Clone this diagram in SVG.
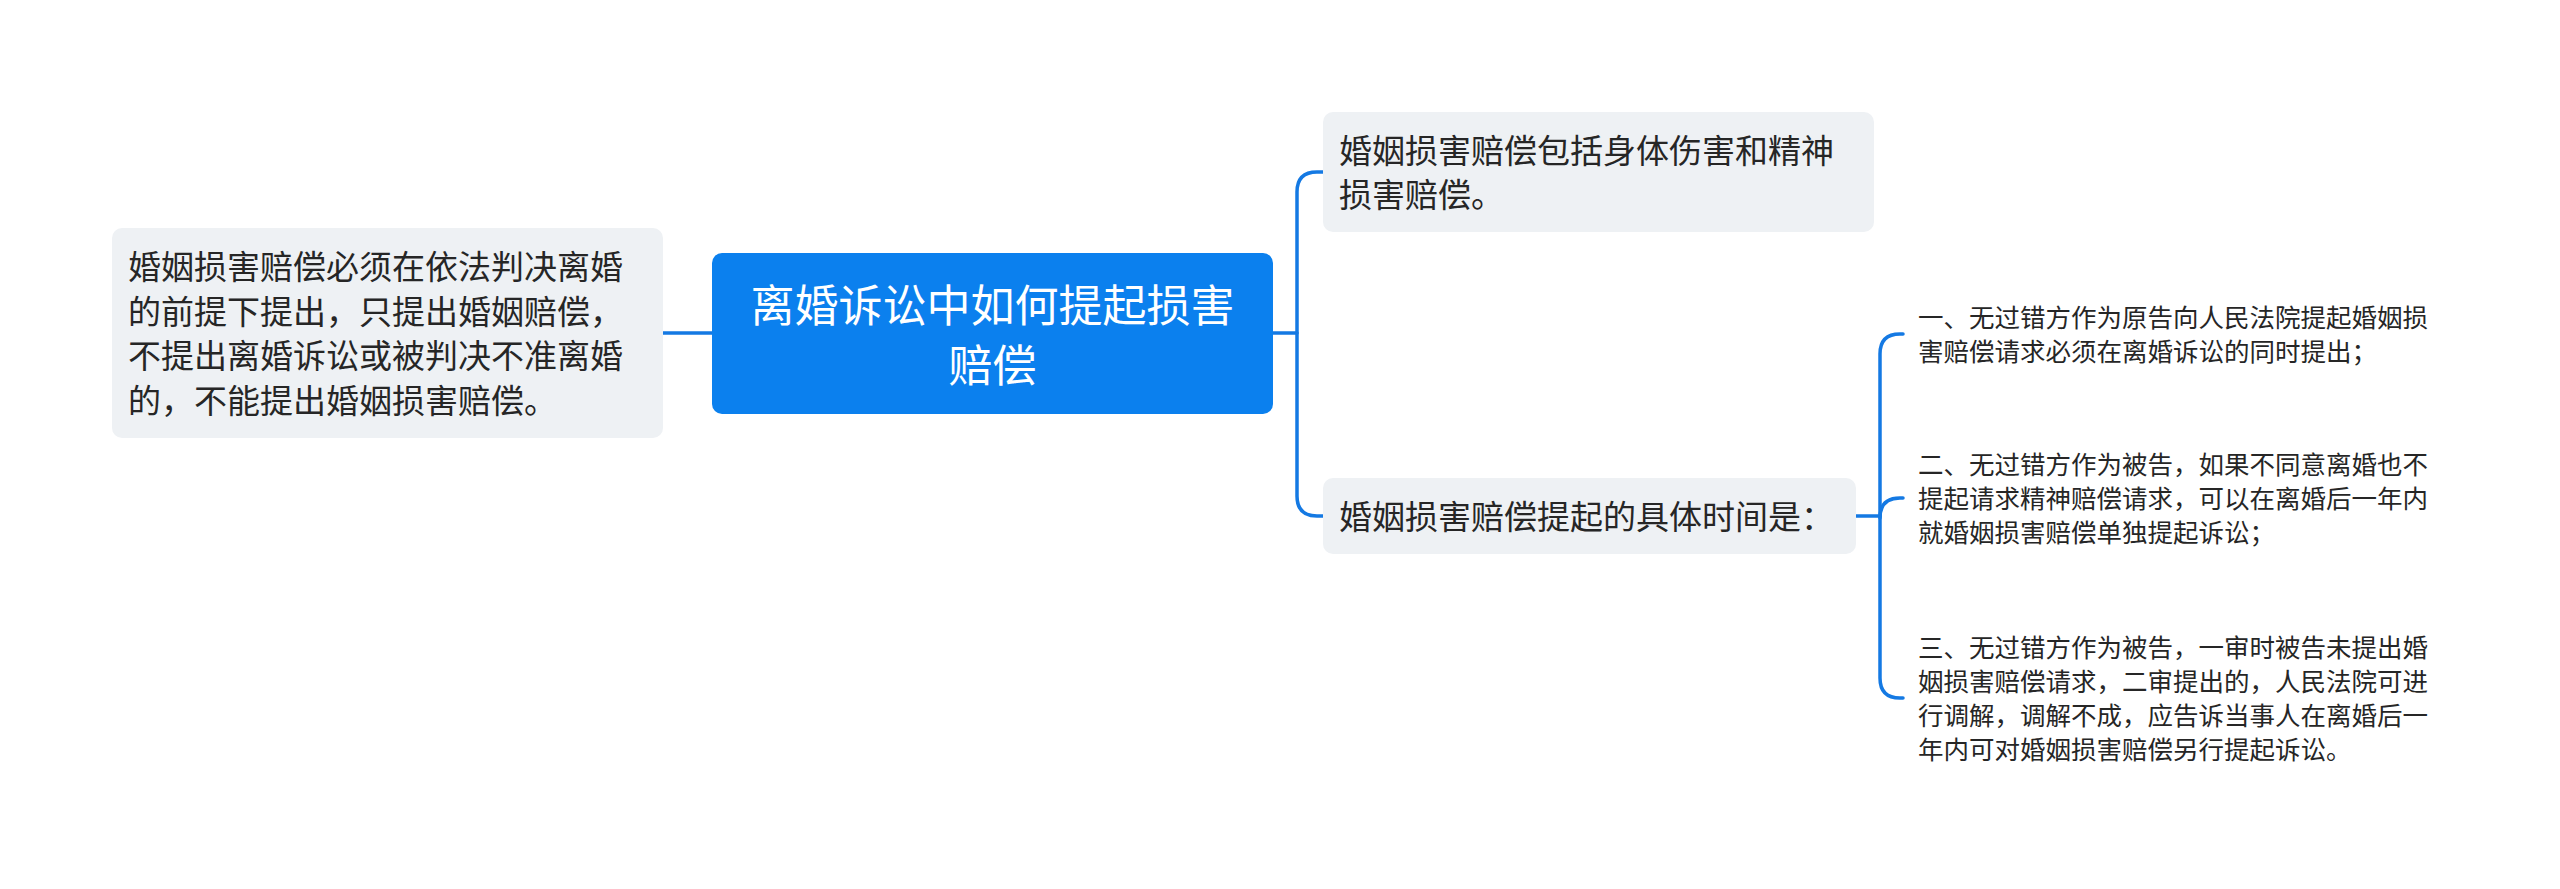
<svg xmlns="http://www.w3.org/2000/svg" width="2560" height="889" viewBox="0 0 2560 889">
<style>
.bg{fill:#ffffff}
.box{fill:#eef1f4}
.root{fill:#0b80ee}
.t{font-family:"Noto Sans CJK SC","Noto Sans",sans-serif;fill:#262626}
.t33{font-size:33px}
.t26{font-size:25.5px}
.rt{font-family:"Noto Sans CJK SC","Noto Sans",sans-serif;font-size:44px;fill:#ffffff;text-anchor:middle}
.ln{fill:none;stroke:#1479e3;stroke-width:3.5;stroke-linecap:round;stroke-linejoin:round}
</style>
<rect class="bg" x="0" y="0" width="2560" height="889"/>
<g id="connectors">
<path class="ln" d="M663,333 H712"/>
<path class="ln" d="M1273,333 H1297"/>
<path class="ln" d="M1323,172 H1317 Q1297,172 1297,192 V496 Q1297,516 1317,516 H1323"/>
<path class="ln" d="M1856,516 H1880"/>
<path class="ln" d="M1903,334 H1900 Q1880,334 1880,354 V678 Q1880,698 1900,698 H1903"/>
<path class="ln" d="M1880,518 Q1880,498 1900,498 H1903"/>
</g>
<g id="root">
<rect class="root" x="712" y="253" width="561" height="161" rx="10"/>
<text class="rt" x="992.5" y="321.7">离婚诉讼中如何提起损害</text>
<text class="rt" x="992.5" y="381.7">赔偿</text>
</g>
<g id="left">
<rect class="box" x="112" y="228" width="551" height="210" rx="10"/>
<text class="t t33" x="128" y="279">婚姻损害赔偿必须在依法判决离婚</text>
<text class="t t33" x="128" y="323.5">的前提下提出，只提出婚姻赔偿，</text>
<text class="t t33" x="128" y="368">不提出离婚诉讼或被判决不准离婚</text>
<text class="t t33" x="128" y="412.5">的，不能提出婚姻损害赔偿。</text>
</g>
<g id="top-right">
<rect class="box" x="1323" y="112" width="551" height="120" rx="10"/>
<text class="t t33" x="1339" y="162.5">婚姻损害赔偿包括身体伤害和精神</text>
<text class="t t33" x="1339" y="206.5">损害赔偿。</text>
</g>
<g id="mid-right">
<rect class="box" x="1323" y="478" width="533" height="76" rx="10"/>
<text class="t t33" x="1339" y="528.5">婚姻损害赔偿提起的具体时间是：</text>
</g>
<g id="item1">
<text class="t t26" x="1918" y="326.5">一、无过错方作为原告向人民法院提起婚姻损</text>
<text class="t t26" x="1918" y="360.5">害赔偿请求必须在离婚诉讼的同时提出；</text>
</g>
<g id="item2">
<text class="t t26" x="1918" y="473.5">二、无过错方作为被告，如果不同意离婚也不</text>
<text class="t t26" x="1918" y="507.5">提起请求精神赔偿请求，可以在离婚后一年内</text>
<text class="t t26" x="1918" y="541.5">就婚姻损害赔偿单独提起诉讼；</text>
</g>
<g id="item3">
<text class="t t26" x="1918" y="656.5">三、无过错方作为被告，一审时被告未提出婚</text>
<text class="t t26" x="1918" y="690.5">姻损害赔偿请求，二审提出的，人民法院可进</text>
<text class="t t26" x="1918" y="724.5">行调解，调解不成，应告诉当事人在离婚后一</text>
<text class="t t26" x="1918" y="758.5">年内可对婚姻损害赔偿另行提起诉讼。</text>
</g>
</svg>
